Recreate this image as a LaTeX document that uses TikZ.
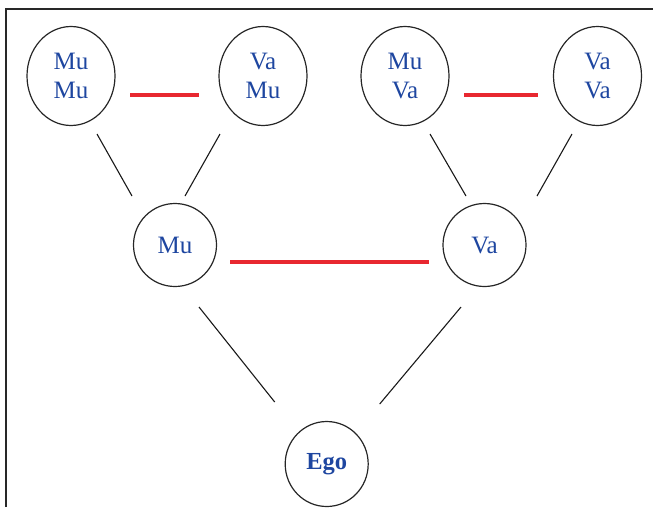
\documentclass[tikz,border=0pt]{standalone}
\usepackage{fontspec}
\setmainfont{Liberation Serif}
\usetikzlibrary{shapes.geometric,calc}
\definecolor{txtblue}{RGB}{30,70,160}
\definecolor{kinred}{RGB}{232,40,48}
\definecolor{frame}{RGB}{40,40,40}
\begin{document}
\begin{tikzpicture}[x=1pt,y=-1pt,
  person/.style={ellipse,draw=black!85,line width=1.2pt,inner sep=0pt,
    text=txtblue,font=\fontsize{25}{29.3}\selectfont,align=center},
  gen2/.style={person,minimum width=88pt,minimum height=99pt},
  gen1/.style={person,minimum width=83pt,minimum height=83pt},
  link/.style={draw=black!90,line width=1.1pt},
  kin/.style={draw=kinred,line width=4pt}]
\useasboundingbox (0,0) rectangle (653,507);
\draw[frame,line width=1.3pt] (6,507) -- (6,9) -- (653,9);
\node[gen2] (mumu) at (71,76) {Mu\\Mu};
\node[gen2] (vamu) at (263,76) {Va\\Mu};
\node[gen2] (muva) at (405,76) {Mu\\Va};
\node[gen2] (vava) at (597.5,76) {Va\\Va};
\node[gen1] (mu) at (175,245) {Mu};
\node[gen1] (va) at (484.5,245) {Va};
\node[person,minimum width=83pt,minimum height=85pt,font=\fontsize{24.5}{29}\selectfont\bfseries] (ego) at (326.7,464) {Ego};
\draw[link] ($(mumu)+(26,58)$) -- ($(mu)+(-43,-49)$);
\draw[link] ($(vamu)+(-43,58)$) -- ($(mu)+(10,-49)$);
\draw[link] ($(muva)+(25,58)$) -- ($(va)+(-18.5,-49)$);
\draw[link] ($(vava)+(-25.5,58)$) -- ($(va)+(52.5,-49)$);
\draw[link] ($(mu)+(24,62)$) -- ($(ego)+(-52,-62)$);
\draw[link] ($(va)+(-23.5,62)$) -- ($(ego)+(53,-60)$);
\draw[kin] ($(mumu)+(59,19)$) -- ($(vamu)+(-64,19)$);
\draw[kin] ($(muva)+(59,19)$) -- ($(vava)+(-59.5,19)$);
\draw[kin] ($(mu)+(55,17)$) -- ($(va)+(-55.5,17)$);
\end{tikzpicture}
\end{document}
